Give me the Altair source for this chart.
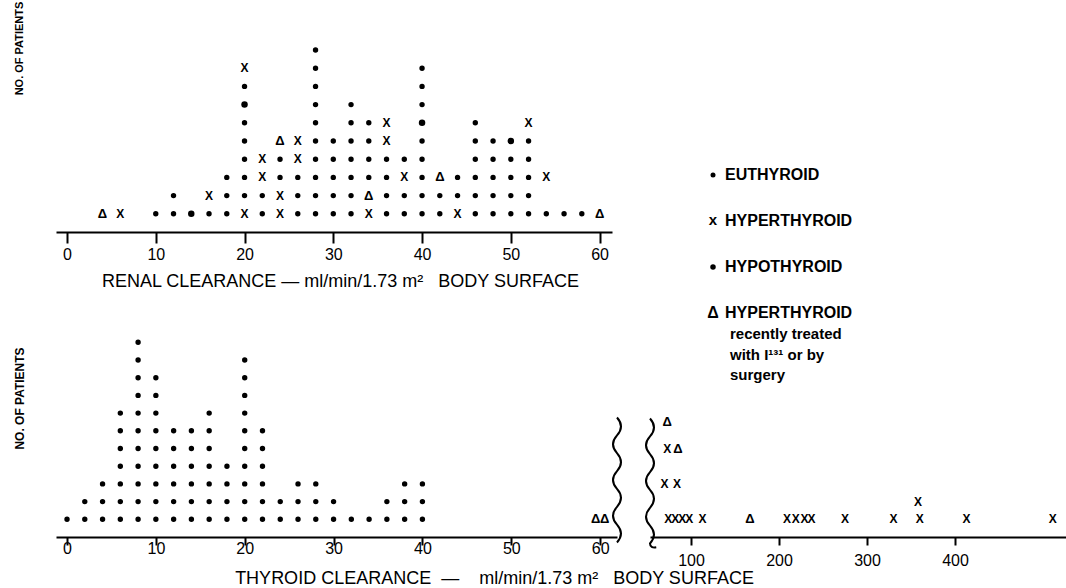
import altair as alt
import pandas as pd

FONT = "Liberation Sans"
NB = "\u00a0"

# Patient groups, coded one letter per patient in the stacks below (bottom to top).
# e = euthyroid, h = hypothyroid, x = hyperthyroid,
# t = hyperthyroid recently treated with I131 or by surgery, _ = empty slot
CODES = {"e": "euthyroid", "h": "hypothyroid", "x": "hyperthyroid", "t": "treated"}

# Renal clearance (ml/min/1.73 m2)
renal_values = [4, 6, 10, 12, 14, 16, 18, 20, 22, 24, 26, 28, 30, 32,
                34, 36, 38, 40, 42, 44, 46, 48, 50, 52, 54, 56, 58, 60]
renal_stacks = ["t", "x", "e", "ee", "h", "ex", "eee", "xeeeeehex", "eexx",
                "xxeet", "eeexx", "eeeeeeeeee", "eeeee", "eeeeeee", "xteeee",
                "eeeexx", "eexe", "eeeeeheee", "eet", "xee", "eeeeee", "eeeee",
                "eeeeh", "eeeeex", "e_x", "e", "e", "t"]

# Thyroid clearance, 0-60 ml/min/1.73 m2
thyroid_values = [0, 2, 4, 6, 8, 10, 12, 14, 16, 18, 20, 22, 24, 26, 28, 30,
                  32, 34, 36, 38, 40, 59.5, 60.5]
thyroid_stacks = ["e", "ee", "eee", "eeeeeee", "eeeeeeeeeee", "eeeeeeeee",
                  "eeeeee", "eeeeee", "eeeeeee", "eeee", "eeeeeeeeee", "eeeeee",
                  "ee", "eee", "eee", "ee", "e", "e", "ee", "eee", "eee", "t", "t"]

# Thyroid clearance above the scale break (ml/min/1.73 m2)
high_values = [74, 82, 90, 98, 113, 167, 209, 219, 229, 237, 275, 330, 360, 413, 511,
               358, 70, 84, 73, 85, 73]
high_levels = [1] * 15 + [2, 3, 3, 5, 5, 6.5]
high_groups = ["x"] * 5 + ["t"] + ["x"] * 9 + ["x", "x", "x", "x", "t", "t"]

legend_labels = ["EUTHYROID", "HYPERTHYROID", "HYPOTHYROID", "HYPERTHYROID"]
legend_notes = ["recently treated", "with  I\u00b9\u00b3\u00b9 or by", "surgery"]

renal_title = "RENAL CLEARANCE \u2014 ml/min/1.73 m\u00b2" + NB * 2 + " BODY SURFACE"
thyroid_title = ("THYROID CLEARANCE" + NB * 2 + "\u2014" + NB * 4 + "ml/min/1.73"
                 + NB + "m\u00b2" + NB * 3 + "BODY SURFACE")


def stacked(values, stacks):
    rows = []
    for v, s in zip(values, stacks):
        for i, c in enumerate(s):
            if c != "_":
                rows.append({"clearance": v, "patients": i + 1, "group": CODES[c]})
    return pd.DataFrame(rows)


renal_df = stacked(renal_values, renal_stacks)
thyroid_df = stacked(thyroid_values, thyroid_stacks)
high_df = pd.DataFrame({"clearance": high_values, "patients": high_levels,
                        "group": [CODES[g] for g in high_groups]})
one = pd.DataFrame({"k": [0]})


def glyph_layers(df, x_enc, y_enc):
    base = alt.Chart(df).encode(x=x_enc, y=y_enc)
    dots = base.transform_filter(
        alt.FieldOneOfPredicate(field="group", oneOf=["euthyroid", "hypothyroid"])
    ).mark_circle(color="black", opacity=1).encode(
        size=alt.Size("group:N", scale=alt.Scale(domain=["euthyroid", "hypothyroid"],
                                                  range=[29, 42]), legend=None)
    )
    crosses = base.transform_filter(alt.datum.group == "hyperthyroid").mark_text(
        text="X", font=FONT, fontWeight="bold", fontSize=12, color="black",
        align="center", baseline="middle")
    deltas = base.transform_filter(alt.datum.group == "treated").mark_text(
        text="\u0394", font=FONT, fontWeight="bold", fontSize=13, color="black",
        align="center", baseline="middle")
    return [dots, crosses, deltas]


def wave_path(half_waves=7, amp=0.085, hook=False):
    h = 2.0 / half_waves
    parts = ["M0,-1"]
    y = -1.0
    for k in range(half_waves):
        a = amp if k % 2 == 0 else -amp
        parts.append(f"C{a:.3f},{y + h / 3:.3f} {a:.3f},{y + 2 * h / 3:.3f} 0,{y + h:.3f}")
        y += h
    if hook:
        parts.append("C0,1.05 0.04,1.07 0.1,1.06")
    return " ".join(parts)


def x_axis(values, title, title_x, title_y, tick_size, label_padding):
    return alt.Axis(values=values, title=title, titleX=title_x, titleY=title_y,
                    titleAlign="center", titleBaseline="middle", titleFontSize=18,
                    titleFontWeight="normal", labelFontSize=16, labelAngle=0,
                    labelFlush=False, labelOverlap=False, format="d",
                    tickSize=tick_size, labelPadding=label_padding,
                    domainWidth=2, tickWidth=2, grid=False)


def y_axis(title_y, size):
    return alt.Axis(title="NO. OF PATIENTS", domain=False, ticks=False, labels=False,
                    grid=False, titleAngle=270, titleX=-37, titleY=title_y,
                    titleAlign="center", titleBaseline="middle", titleFontSize=size,
                    titleFontWeight="bold")


# ---- upper panel: renal clearance ----
x_up = alt.X("clearance:Q",
             scale=alt.Scale(domain=[-1.24, 61.4], nice=False, zero=False),
             axis=x_axis([0, 10, 20, 30, 40, 50, 60], renal_title, 284, 49, 11, 3))
y_up = alt.Y("patients:Q", scale=alt.Scale(domain=[0, 232 / 18.2], nice=False),
             axis=y_axis(48, 11))
anchor = alt.Chart(one).mark_rect(color="white").encode(
    x=alt.value(-56), x2=alt.value(-55), y=alt.value(-40), y2=alt.value(-39))
upper = alt.layer(anchor, *glyph_layers(renal_df, x_up, y_up)).properties(
    width=556, height=232)

# ---- legend (its panel starts where the right-hand lower panel starts) ----
LX = 63
label_style = dict(font=FONT, fontWeight="bold", fontSize=16, color="black",
                   align="left", baseline="middle")
note_style = dict(font=FONT, fontWeight="bold", fontSize=15, color="black",
                  align="left", baseline="middle")
label_rows = [175, 221, 267, 313]
note_rows = [334, 355, 375]
legend_layers = [
    alt.Chart(one).mark_circle(color="black", opacity=1, size=25).encode(
        x=alt.value(LX), y=alt.value(label_rows[0])),
    alt.Chart(one).mark_text(text="x", font=FONT, fontWeight="bold", fontSize=15,
                             color="black", align="center", baseline="middle").encode(
        x=alt.value(LX), y=alt.value(label_rows[1] - 1)),
    alt.Chart(one).mark_circle(color="black", opacity=1, size=30).encode(
        x=alt.value(LX), y=alt.value(label_rows[2])),
    alt.Chart(one).mark_text(text="\u0394", font=FONT, fontWeight="bold", fontSize=16,
                             color="black", align="center", baseline="middle").encode(
        x=alt.value(LX), y=alt.value(label_rows[3])),
]
for lab, yy in zip(legend_labels, label_rows):
    legend_layers.append(alt.Chart(one).mark_text(text=lab, **label_style).encode(
        x=alt.value(LX + 12), y=alt.value(yy)))
for note, yy in zip(legend_notes, note_rows):
    legend_layers.append(alt.Chart(one).mark_text(text=note, **note_style).encode(
        x=alt.value(LX + 17), y=alt.value(yy)))
legend = alt.layer(*legend_layers).properties(width=416, height=232)

# ---- lower panels: thyroid clearance with a scale break ----
y_lo_scale = alt.Scale(domain=[0, 237 / 17.7], nice=False)
x_ll = alt.X("clearance:Q",
             scale=alt.Scale(domain=[-1.24, 61.9], nice=False, zero=False),
             axis=x_axis([0, 10, 20, 30, 40, 50, 60], thyroid_title, 438, 41, 8, -5))
y_ll = alt.Y("patients:Q", scale=y_lo_scale, axis=y_axis(98, 12))
break_left = alt.Chart(one).mark_point(
    shape=wave_path(), size=15625, filled=False, color="black", strokeWidth=2,
    opacity=1).encode(x=alt.value(561), y=alt.value(180))
lower_left = alt.layer(*glyph_layers(thyroid_df, x_ll, y_ll), break_left).properties(
    width=561, height=237)

x_lr = alt.X("clearance:Q",
             scale=alt.Scale(domain=[53.4, 526.1], nice=False, zero=False),
             axis=x_axis([100, 200, 300, 400], None, 0, 0, 8, 7))
y_lr = alt.Y("patients:Q", scale=y_lo_scale, axis=None)
break_right = alt.Chart(one).mark_point(
    shape=wave_path(hook=True), size=15625, filled=False, color="black", strokeWidth=2,
    opacity=1).encode(x=alt.value(0), y=alt.value(181))
lower_right = alt.layer(*glyph_layers(high_df, x_lr, y_lr), break_right).properties(
    width=416, height=237)

chart = alt.concat(
    upper, legend, lower_left, lower_right,
    columns=2, spacing={"row": 68, "column": 33}, bounds="flush",
).properties(
    padding={"left": 0, "top": -40, "right": 0, "bottom": 0},
    background="white",
).configure_view(stroke=None).configure_axis(
    labelFont=FONT, titleFont=FONT, labelColor="black", titleColor="black",
    domainColor="black", tickColor="black",
)

chart.save("out.html", embed_options={"renderer": "svg", "actions": False})
